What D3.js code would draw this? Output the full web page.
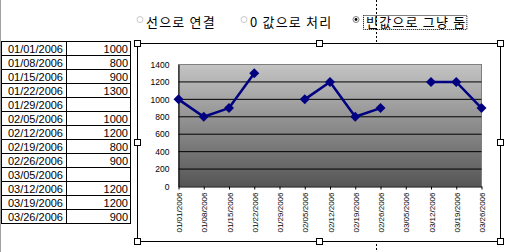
<!DOCTYPE html>
<html>
<head>
  <meta charset="utf-8">
  <script src="https://d3js.org/d3.v7.min.js"></script>
  <style>
    body { margin: 0; background: #fff; }
    svg { display: block; }
  </style>
</head>
<body>
<svg id="chart" width="505" height="252"></svg>
<script>
  // sheet data
  const dates = ["01/01/2006","01/08/2006","01/15/2006","01/22/2006","01/29/2006","02/05/2006",
                 "02/12/2006","02/19/2006","02/26/2006","03/05/2006","03/12/2006","03/19/2006","03/26/2006"];
  const values = [1000, 800, 900, 1300, null, 1000, 1200, 800, 900, null, 1200, 1200, 900];
  const yTicks = [0, 200, 400, 600, 800, 1000, 1200, 1400];
  const options = ["선으로 연결", "0 값으로 처리", "빈값으로 그냥 둠"];

  const rows = dates.map((d, i) => ({ date: d, v: values[i] }));
  const svg = d3.select("#chart");

  // window left frame
  svg.append("line").attr("x1", 0.5).attr("x2", 0.5).attr("y1", 0).attr("y2", 252)
    .attr("stroke", "#a0a0a0");

  // page break dotted line (behind the chart)
  svg.append("line").attr("x1", 376.5).attr("x2", 376.5).attr("y1", 0).attr("y2", 252)
    .attr("stroke", "#000").attr("stroke-dasharray", "2,2");

  // radio options
  const optX = [137, 241, 353];
  const opt = svg.append("g").style("font", "13px 'Noto Sans CJK KR'").style("letter-spacing", "1.2px");
  options.forEach((t, i) => {
    opt.append("circle").attr("cx", optX[i] + 3).attr("cy", 19.5).attr("r", 3)
      .attr("fill", "#fff").attr("stroke", i === 2 ? "#808080" : "#c8c8c8");
    if (i === 2) opt.append("circle").attr("cx", optX[i] + 3).attr("cy", 19.5).attr("r", 1.4).attr("fill", "#000");
    const tx = opt.append("text").attr("x", optX[i] + (i === 2 ? 13 : 9)).attr("y", 26.5).text(t);
    if (i === 2) {
      const w = tx.node().getComputedTextLength();
      opt.append("rect").attr("x", optX[i] + 10.5).attr("y", 15.5).attr("width", w + 3).attr("height", 14)
        .attr("fill", "none").attr("stroke", "#000").attr("stroke-dasharray", "1,1");
    }
  });

  // table
  const rowH = 14, tableTop = 41;
  const colX = [1, 66, 130];
  const table = svg.append("g").style("font", "11px 'Liberation Sans', Arial, sans-serif");
  rows.forEach((r, i) => {
    const y = tableTop + i * rowH;
    table.append("text").attr("x", colX[1] - 3).attr("y", y + 11.5).attr("text-anchor", "end").text(r.date);
    if (r.v != null)
      table.append("text").attr("x", colX[2] - 2).attr("y", y + 11.5).attr("text-anchor", "end").text(r.v);
  });
  d3.range(rows.length + 1).forEach(i => {
    const y = tableTop + i * rowH + 0.5;
    table.append("line").attr("x1", colX[0]).attr("x2", colX[2] + 0.5).attr("y1", y).attr("y2", y).attr("stroke", "#000");
  });
  colX.forEach(x => {
    table.append("line").attr("x1", x + 0.5).attr("x2", x + 0.5)
      .attr("y1", tableTop).attr("y2", tableTop + rows.length * rowH + 1).attr("stroke", "#000");
  });

  // chart object
  const box = { x: 137, y: 43, w: 363, h: 198 };
  svg.append("rect").attr("x", box.x + 0.5).attr("y", box.y + 0.5).attr("width", box.w).attr("height", box.h)
    .attr("fill", "#fff").attr("stroke", "#000");

  const x = d3.scalePoint().domain(dates).range([178.5, 481.5]);
  const y = d3.scaleLinear().domain([0, 1400]).range([186.5, 64.5]);

  const defs = svg.append("defs");
  const grad = defs.append("linearGradient").attr("id", "pa").attr("x1", 0).attr("x2", 0).attr("y1", 0).attr("y2", 1);
  grad.append("stop").attr("offset", 0).attr("stop-color", "#c4c4c4");
  grad.append("stop").attr("offset", 1).attr("stop-color", "#555555");

  svg.append("rect").attr("x", x.range()[0]).attr("y", y(1400))
    .attr("width", x.range()[1] - x.range()[0]).attr("height", y(0) - y(1400))
    .attr("fill", "url(#pa)").attr("stroke", "#808080");

  // gridlines
  svg.append("g").selectAll("line").data(yTicks.filter(t => t > 0 && t < 1400)).join("line")
    .attr("x1", x.range()[0]).attr("x2", x.range()[1])
    .attr("y1", d => y(d)).attr("y2", d => y(d)).attr("stroke", "#000");

  // axes
  const yAxis = svg.append("g").attr("transform", `translate(${x.range()[0]},0)`)
    .call(d3.axisLeft(y).tickValues(yTicks).tickFormat(d3.format("d")).tickSize(0).tickPadding(9));
  yAxis.select(".domain").attr("stroke", "#000");
  yAxis.selectAll("text").style("font", "8.5px 'Liberation Sans', Arial, sans-serif").attr("fill", "#000");

  const xAxis = svg.append("g").attr("transform", `translate(0,${y(0)})`)
    .call(d3.axisBottom(x).tickSize(3).tickSizeOuter(0));
  xAxis.select(".domain").attr("stroke", "#000");
  xAxis.selectAll("line").attr("stroke", "#000");
  xAxis.selectAll("text")
    .style("font", "8px 'Liberation Sans', Arial, sans-serif").attr("fill", "#000")
    .attr("text-anchor", "end").attr("dy", null)
    .attr("transform", "rotate(-90)").attr("x", -6).attr("y", 3);

  // series
  const line = d3.line().defined(d => d.v != null).x(d => x(d.date)).y(d => y(d.v));
  svg.append("path").datum(rows).attr("d", line)
    .attr("fill", "none").attr("stroke", "#000080").attr("stroke-width", 2.5);

  const diamond = {
    draw(ctx, size) {
      const r = Math.sqrt(size / 2);
      ctx.moveTo(0, -r); ctx.lineTo(r, 0); ctx.lineTo(0, r); ctx.lineTo(-r, 0); ctx.closePath();
    }
  };
  svg.append("g").selectAll("path").data(rows.filter(d => d.v != null)).join("path")
    .attr("transform", d => `translate(${x(d.date)},${y(d.v)})`)
    .attr("d", d3.symbol(diamond, 50)).attr("fill", "#000080");

  // selection handles
  const hx = [box.x, box.x + box.w / 2, box.x + box.w];
  const hy = [box.y, box.y + box.h / 2, box.y + box.h];
  const handles = [];
  hx.forEach((a, i) => hy.forEach((b, j) => { if (!(i === 1 && j === 1)) handles.push([a, b]); }));
  svg.append("g").selectAll("rect").data(handles).join("rect")
    .attr("x", d => Math.round(d[0]) - 2.5).attr("y", d => Math.round(d[1]) - 2.5)
    .attr("width", 6).attr("height", 6).attr("fill", "#fff").attr("stroke", "#000");
</script>
</body>
</html>
